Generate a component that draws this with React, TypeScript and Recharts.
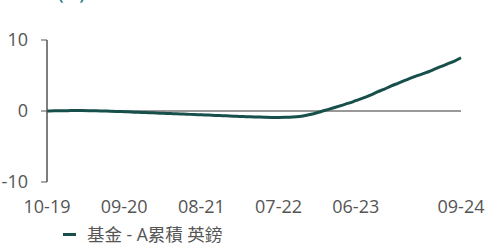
import { LineChart, Line, XAxis, YAxis, ReferenceLine, Legend } from 'recharts';

// month index from 10-19
const months = [
  0, 1, 2, 3, 4, 5, 6, 7, 8, 9, 10, 11, 12, 13, 14, 15, 16, 17, 18, 19,
  20, 21, 22, 23, 24, 25, 26, 27, 28, 29, 30, 31, 32, 33, 34, 35, 36, 37, 38, 39,
  40, 41, 42, 43, 44, 45, 46, 47, 48, 49, 50, 51, 52, 53, 54, 55, 56, 57, 58, 59,
];

const fundValues = [
  0, 0.02, 0.04, 0.05, 0.06, 0.06, 0.05, 0.03, 0, -0.03,
  -0.06, -0.1, -0.14, -0.18, -0.22, -0.26, -0.3, -0.34, -0.38, -0.42,
  -0.46, -0.5, -0.54, -0.58, -0.62, -0.66, -0.7, -0.74, -0.78, -0.82,
  -0.85, -0.88, -0.9, -0.9, -0.88, -0.84, -0.76, -0.6, -0.38, -0.1,
  0.2, 0.5, 0.8, 1.1, 1.45, 1.8, 2.2, 2.65, 3.05, 3.5,
  3.9, 4.3, 4.7, 5.05, 5.4, 5.8, 6.2, 6.6, 7.0, 7.5,
];

const xTicks = [0, 11, 22, 33, 44, 59];
const xTickLabels = ['10-19', '09-20', '08-21', '07-22', '06-23', '09-24'];
const yTicks = [-10, 0, 10];

const seriesName = '基金 - A累積 英鎊';

const data = months.map((m, i) => ({ m, fund: fundValues[i] }));

const font = "'Open Sans', 'Noto Sans CJK TC', sans-serif";
const lineColor = '#174f4b';
const textColor = '#555';

const LegendBox = () => (
  <div style={{ display: 'flex', alignItems: 'center', height: 21, paddingLeft: 63, paddingTop: 2, fontFamily: font, fontSize: 17.5, lineHeight: '21px', color: textColor }}>
    <span style={{ display: 'inline-block', width: 13, height: 3, background: lineColor, marginRight: 11 }} />
    <span>{seriesName}</span>
  </div>
);

export default function App() {
  return (
    <div style={{ position: 'absolute', left: 0, top: 0, width: 485, height: 245, overflow: 'hidden', fontFamily: font }}>
      <style>{'body{margin:0}'}</style>
      <div style={{ position: 'absolute', left: 58, top: -19, color: '#2a7f7f', fontSize: 18, fontWeight: 600 }}>(%)</div>
      <LineChart width={485} height={245} data={data} margin={{ top: 40, right: 24, left: 0, bottom: 0 }}>
        <XAxis
          dataKey="m"
          type="number"
          domain={[0, 59]}
          ticks={xTicks}
          tickFormatter={(v) => xTickLabels[xTicks.indexOf(v)]}
          axisLine={false}
          tickLine={false}
          tickMargin={12}
          height={40}
          tick={{ fill: textColor, fontSize: 18, fontFamily: font }}
          interval={0}
        />
        <YAxis
          type="number"
          domain={[-10, 10]}
          ticks={yTicks}
          width={47}
          axisLine={{ stroke: textColor, strokeWidth: 1 }}
          tickLine={{ stroke: textColor, strokeWidth: 1 }}
          tickSize={6}
          tickMargin={13}
          tick={{ fill: textColor, fontSize: 18, fontFamily: font }}
        />
        <ReferenceLine x={0} stroke={textColor} strokeWidth={1} />
        <ReferenceLine y={0} stroke="#777" strokeWidth={1.5} />
        <Line
          type="monotone"
          dataKey="fund"
          name={seriesName}
          stroke={lineColor}
          strokeWidth={3}
          dot={false}
          isAnimationActive={false}
        />
        <Legend verticalAlign="bottom" height={23} content={() => <LegendBox />} />
      </LineChart>
    </div>
  );
}
